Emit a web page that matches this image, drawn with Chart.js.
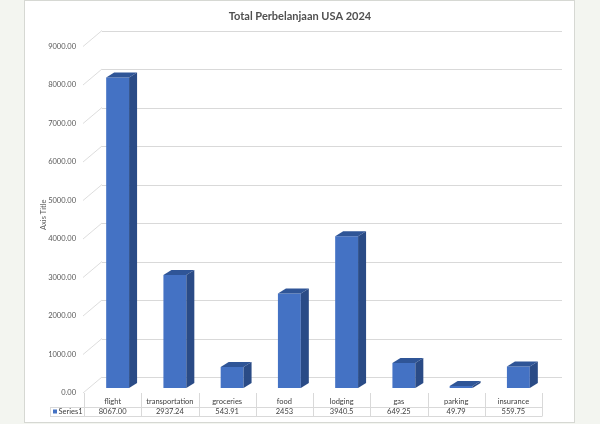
<!DOCTYPE html>
<html>
<head>
<meta charset="utf-8">
<script src="https://cdn.jsdelivr.net/npm/chart.js@4.4.1/dist/chart.umd.min.js"></script>
<style>
  html, body { margin: 0; padding: 0; background: #f3f5f0; }
  canvas { display: block; }
</style>
</head>
<body>
<canvas id="chart" width="600" height="424"></canvas>
<script>
// Total Perbelanjaan USA 2024 — 3D-style column chart with data table
const categories = ['flight', 'transportation', 'groceries', 'food', 'lodging', 'gas', 'parking', 'insurance'];
const values = [8067.00, 2937.24, 543.91, 2453, 3940.5, 649.25, 49.79, 559.75];
const valueLabels = ['8067.00', '2937.24', '543.91', '2453', '3940.5', '649.25', '49.79', '559.75'];
const yTicks = [0, 1000, 2000, 3000, 4000, 5000, 6000, 7000, 8000, 9000];
const seriesName = 'Series1';

const FONT = 'Lato, Carlito, "Liberation Sans", sans-serif';
const BLUE = '#4472c4';
const BLUE_TOP = '#2f5597';
const BLUE_SIDE = '#2a4b86';
const SHIFT = 5;      // bar front offset inside the 3D box
const DX = 8, DY = 5; // bar depth

// page + white chart box
const backdrop = {
  id: 'backdrop',
  beforeDraw(chart) {
    const { ctx } = chart;
    ctx.save();
    ctx.fillStyle = '#f3f5f0';
    ctx.fillRect(0, 0, 600, 424);
    ctx.fillStyle = '#ffffff';
    ctx.fillRect(25, 1, 549, 421);
    ctx.strokeStyle = '#d6d8d3';
    ctx.lineWidth = 1;
    ctx.strokeRect(24.5, 0.5, 550, 422);
    ctx.restore();
  }
};

// back-wall gridlines, side-wall diagonals, then bar extrusions
const wall3d = {
  id: 'wall3d',
  beforeDatasetsDraw(chart) {
    const { ctx, chartArea: a, scales: { y } } = chart;
    ctx.save();
    yTicks.forEach(v => {
      const yf = y.getPixelForValue(v);
      ctx.strokeStyle = '#d9d9d9';
      ctx.lineWidth = 1;
      ctx.beginPath();
      ctx.moveTo(a.left + 18, Math.round(yf - 11) + 0.5);
      ctx.lineTo(a.right + 20, Math.round(yf - 11) + 0.5);
      ctx.stroke();
      ctx.strokeStyle = '#d4d4d4';
      ctx.lineWidth = 0.8;
      ctx.beginPath();
      ctx.moveTo(a.left - 1, yf + 5);
      ctx.lineTo(a.left + 18, yf - 11);
      ctx.stroke();
    });
    ctx.restore();
    ctx.save();
    ctx.translate(SHIFT, 0);
  },
  afterDatasetsDraw(chart) {
    const { ctx } = chart;
    chart.getDatasetMeta(0).data.forEach(bar => {
      const { x, y, base, width } = bar.getProps(['x', 'y', 'base', 'width'], true);
      const l = x - width / 2, r = x + width / 2;
      // top face
      ctx.fillStyle = BLUE_TOP;
      ctx.beginPath();
      ctx.moveTo(l, y);
      ctx.lineTo(l + DX, y - DY);
      ctx.lineTo(r + DX, y - DY);
      ctx.lineTo(r, y);
      ctx.closePath();
      ctx.fill();
      // side face
      ctx.fillStyle = BLUE_SIDE;
      ctx.beginPath();
      ctx.moveTo(r, y);
      ctx.lineTo(r + DX, y - DY);
      ctx.lineTo(r + DX, base - DY);
      ctx.lineTo(r, base);
      ctx.closePath();
      ctx.fill();
    });
    ctx.restore();
  }
};

// title + data table under the plot
const tableAndTitle = {
  id: 'tableAndTitle',
  afterDraw(chart) {
    const { ctx, scales: { x } } = chart;
    ctx.save();
    ctx.fillStyle = '#505050';
    ctx.font = `bold 11px ${FONT}`;
    ctx.textAlign = 'center';
    ctx.textBaseline = 'middle';
    ctx.fillText('Total Perbelanjaan USA 2024', 300, 16);

    const half = (x.getPixelForValue(1) - x.getPixelForValue(0)) / 2;
    const left = x.getPixelForValue(0) - half;
    const right = x.getPixelForValue(categories.length - 1) + half;
    const top = 393, mid = 407, bottom = 416.5;

    ctx.strokeStyle = '#d9d9d9';
    ctx.lineWidth = 1;
    ctx.beginPath();
    for (let i = 0; i <= categories.length; i++) {
      const xx = Math.round(left + i * half * 2) + 0.5;
      ctx.moveTo(xx, top);
      ctx.lineTo(xx, bottom);
    }
    ctx.moveTo(50.5, mid);
    ctx.lineTo(50.5, bottom);
    ctx.moveTo(50, mid + 0.5);
    ctx.lineTo(right, mid + 0.5);
    ctx.moveTo(50, bottom);
    ctx.lineTo(right, bottom);
    ctx.stroke();

    ctx.fillStyle = '#404040';
    ctx.font = `7.5px ${FONT}`;
    categories.forEach((c, i) => {
      const cx = x.getPixelForValue(i);
      ctx.fillText(c, cx, 401.5);
      ctx.fillText(valueLabels[i], cx, 412);
    });
    ctx.fillStyle = BLUE;
    ctx.fillRect(53, 409.5, 4, 4);
    ctx.fillStyle = '#404040';
    ctx.textAlign = 'left';
    ctx.fillText(seriesName, 58.5, 412);
    ctx.restore();
  }
};

new Chart(document.getElementById('chart'), {
  type: 'bar',
  data: {
    labels: categories,
    datasets: [{
      label: seriesName,
      data: values,
      backgroundColor: BLUE,
      borderWidth: 0,
      barPercentage: 0.4,
      categoryPercentage: 1
    }]
  },
  options: {
    responsive: false,
    animation: false,
    devicePixelRatio: 1,
    layout: { padding: { left: 25, right: 58, top: 41.5, bottom: 36 } },
    plugins: {
      legend: { display: false },
      tooltip: { enabled: false }
    },
    scales: {
      x: { display: false, offset: true },
      y: {
        min: 0,
        max: 9000,
        afterFit: (s) => { s.width = 59; },
        afterBuildTicks: (s) => { s.ticks = yTicks.map(v => ({ value: v })); },
        grid: { display: false, drawTicks: false },
        border: { display: false },
        ticks: {
          padding: 8,
          labelOffset: 5,
          color: '#595959',
          font: { family: FONT, size: 7.5 },
          callback: (v) => Number(v).toFixed(2)
        },
        title: {
          display: true,
          text: 'Axis Title',
          color: '#595959',
          font: { family: FONT, size: 7.5 },
          padding: { top: 14, bottom: 0 }
        }
      }
    }
  },
  plugins: [backdrop, wall3d, tableAndTitle]
});
</script>
</body>
</html>
